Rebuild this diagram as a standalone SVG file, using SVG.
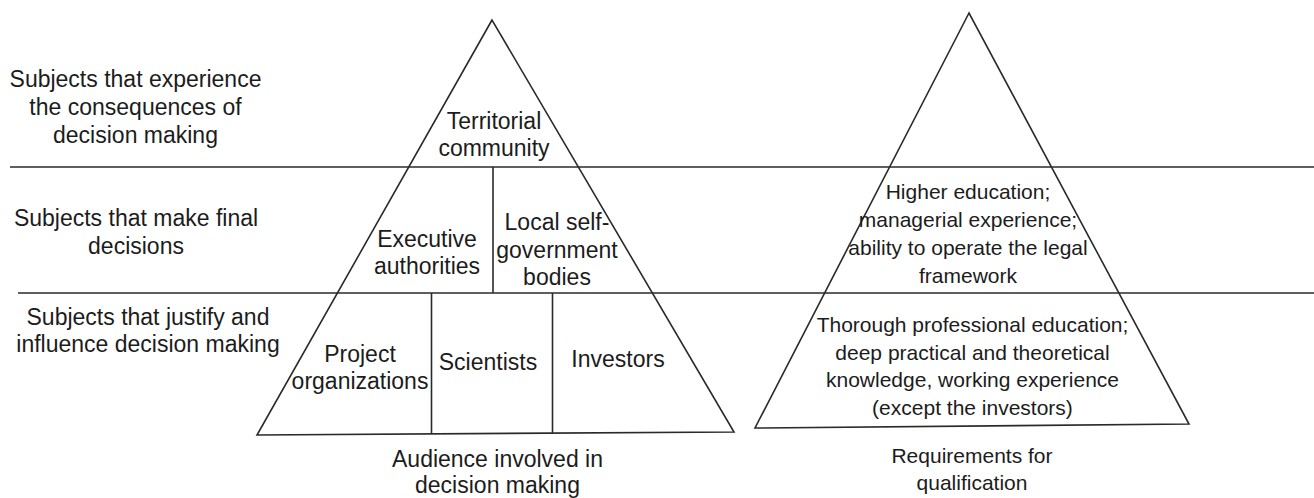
<svg xmlns="http://www.w3.org/2000/svg" width="1314" height="498" viewBox="0 0 1314 498">
  <style>
    .ln { fill: none; stroke: #2a2a2a; stroke-width: 1.6; stroke-linejoin: miter; }
    .t { font-family: "Liberation Sans", Arial, sans-serif; fill: #1c1c1c; text-anchor: middle; }
    .l { font-size: 23px; }
    .r { font-size: 21px; }
  </style>
  <rect width="1314" height="498" fill="#ffffff"/>

  <!-- level separators running across the whole page -->
  <g id="connectors">
    <line class="ln" x1="10" y1="167" x2="1314" y2="167"/>
    <line class="ln" x1="18" y1="293" x2="1314" y2="293"/>
  </g>

  <!-- left pyramid: audience -->
  <g id="pyramid-audience">
    <polygon class="ln" points="492,20 257,435 734,432"/>
    <line class="ln" x1="493" y1="167" x2="493" y2="293"/>
    <line class="ln" x1="431.5" y1="293" x2="431.5" y2="434"/>
    <line class="ln" x1="552.5" y1="293" x2="552.5" y2="433"/>
  </g>

  <!-- right pyramid: qualification -->
  <g id="pyramid-qualification">
    <polygon class="ln" points="969,13 755,428 1189,424"/>
  </g>

  <!-- row labels -->
  <g id="label-consequences">
    <text class="t l" x="135.5" y="87">Subjects that experience</text>
    <text class="t l" x="135.5" y="115">the consequences of</text>
    <text class="t l" x="135.5" y="143">decision making</text>
  </g>
  <g id="label-final">
    <text class="t l" x="136" y="226">Subjects that make final</text>
    <text class="t l" x="136" y="253.5">decisions</text>
  </g>
  <g id="label-justify">
    <text class="t l" x="148" y="325">Subjects that justify and</text>
    <text class="t l" x="148" y="352">influence decision making</text>
  </g>

  <!-- cells of the left pyramid -->
  <g id="territorial-community">
    <text class="t l" x="494" y="129">Territorial</text>
    <text class="t l" x="494" y="156">community</text>
  </g>
  <g id="executive-authorities">
    <text class="t l" x="427" y="246.5">Executive</text>
    <text class="t l" x="427" y="273.5">authorities</text>
  </g>
  <g id="local-self-government">
    <text class="t l" x="557" y="230">Local self-</text>
    <text class="t l" x="557" y="257.5">government</text>
    <text class="t l" x="557" y="285">bodies</text>
  </g>
  <g id="project-organizations">
    <text class="t l" x="360" y="361.5">Project</text>
    <text class="t l" x="360" y="389">organizations</text>
  </g>
  <g id="scientists">
    <text class="t l" x="488" y="370">Scientists</text>
  </g>
  <g id="investors">
    <text class="t l" x="618" y="367">Investors</text>
  </g>
  <g id="caption-audience">
    <text class="t l" x="497.5" y="466.5">Audience involved in</text>
    <text class="t l" x="497.5" y="493">decision making</text>
  </g>

  <!-- cells of the right pyramid -->
  <g id="req-decision-makers">
    <text class="t r" x="968" y="199">Higher education;</text>
    <text class="t r" x="968" y="226.5">managerial experience;</text>
    <text class="t r" x="968" y="255">ability to operate the legal</text>
    <text class="t r" x="968" y="282.5">framework</text>
  </g>
  <g id="req-justifiers">
    <text class="t r" x="972.5" y="331.5">Thorough professional education;</text>
    <text class="t r" x="972.5" y="359.5">deep practical and theoretical</text>
    <text class="t r" x="972.5" y="387">knowledge, working experience</text>
    <text class="t r" x="972.5" y="415">(except the investors)</text>
  </g>
  <g id="caption-qualification">
    <text class="t r" x="972" y="463">Requirements for</text>
    <text class="t r" x="972" y="490">qualification</text>
  </g>
</svg>
